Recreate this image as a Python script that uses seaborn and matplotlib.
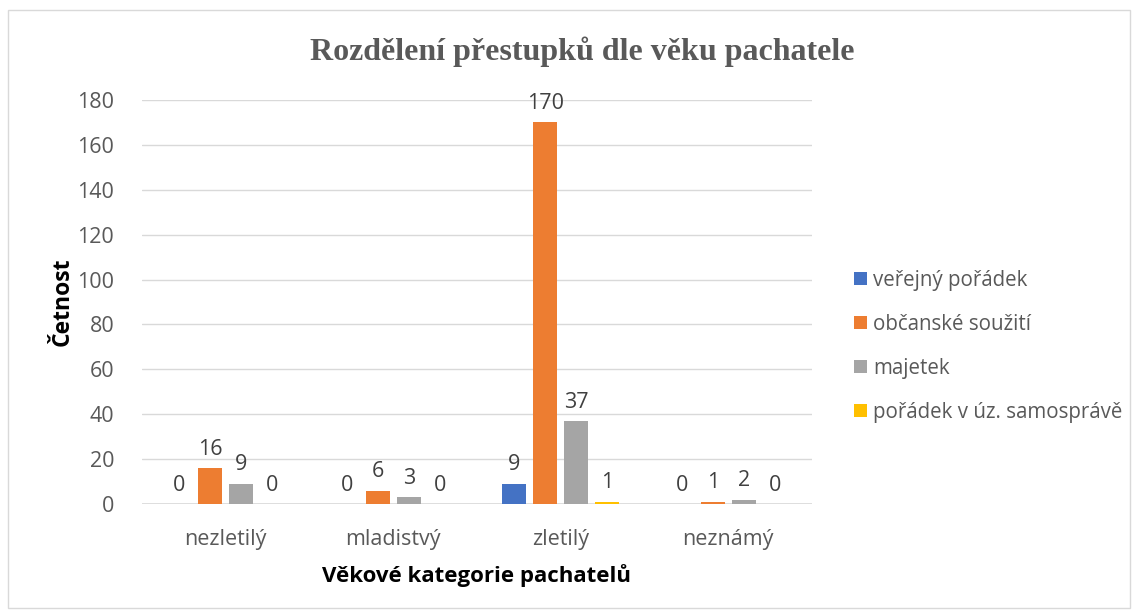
import pandas as pd
import seaborn as sns
import matplotlib.pyplot as plt
from matplotlib.patches import Rectangle

# data
kategorie = ["nezletilý", "mladistvý", "zletilý", "neznámý"]
serie = ["veřejný pořádek", "občanské soužití", "majetek", "pořádek v úz. samosprávě"]
verejny_poradek = [0, 0, 9, 0]
obcanske_souziti = [16, 6, 170, 1]
majetek = [9, 3, 37, 2]
poradek_samosprava = [0, 0, 1, 0]
barvy = ["#4472C4", "#ED7D31", "#A5A5A5", "#FFC000"]

rows = []
for s, vals in zip(serie, [verejny_poradek, obcanske_souziti, majetek, poradek_samosprava]):
    for k, v in zip(kategorie, vals):
        rows.append({"kategorie": k, "typ": s, "pocet": v})
df = pd.DataFrame(rows)

sns.set_theme(style="white")
plt.rcParams["font.family"] = ["Open Sans", "DejaVu Sans"]

fig = plt.figure(figsize=(11.39, 6.14), dpi=100)
ax = fig.add_axes([142 / 1139, 1 - 504 / 614, 670 / 1139, 404 / 614])

ax.yaxis.grid(True, color="#D9D9D9", linewidth=1, zorder=0)
ax.set_axisbelow(True)
sns.barplot(data=df, x="kategorie", y="pocet", hue="typ", order=kategorie,
            hue_order=serie, palette=barvy, width=0.74, gap=0.23,
            saturation=1, linewidth=0, ax=ax, zorder=3)

for c in ax.containers:
    ax.bar_label(c, padding=6, fontsize=15.5, color="#404040")

ax.set_ylim(0, 180)
ax.set_yticks(range(0, 181, 20))
ax.axhline(0, color="#D9D9D9", linewidth=1.2, zorder=1)
for sp in ax.spines.values():
    sp.set_visible(False)
ax.tick_params(axis="both", length=0, labelsize=15.5, labelcolor="#595959")
ax.tick_params(axis="x", pad=18)
ax.tick_params(axis="y", pad=20)

ax.set_ylabel("Četnost", fontsize=16.5, fontweight="bold", color="black", labelpad=2)
ax.set_xlabel("Věkové kategorie pachatelů", fontsize=16, fontweight="bold",
              color="black", labelpad=10)

fig.text(0.511, 1 - 52 / 614, "Rozdělení přestupků dle věku pachatele",
         ha="center", va="center", fontsize=23, fontweight="bold",
         color="#595959", family="Liberation Serif")

ax.legend(loc="center left", bbox_to_anchor=(1.035, 0.39), frameon=False,
          fontsize=14.8, labelcolor="#595959", handlelength=0.62, handleheight=0.62,
          handletextpad=0.32, labelspacing=1.12)

fig.add_artist(Rectangle((8 / 1139, 6 / 614), 1122 / 1139, 598 / 614,
                         transform=fig.transFigure, fill=False,
                         edgecolor="#D9D9D9", linewidth=1))

fig.savefig("out.png", dpi=100)
